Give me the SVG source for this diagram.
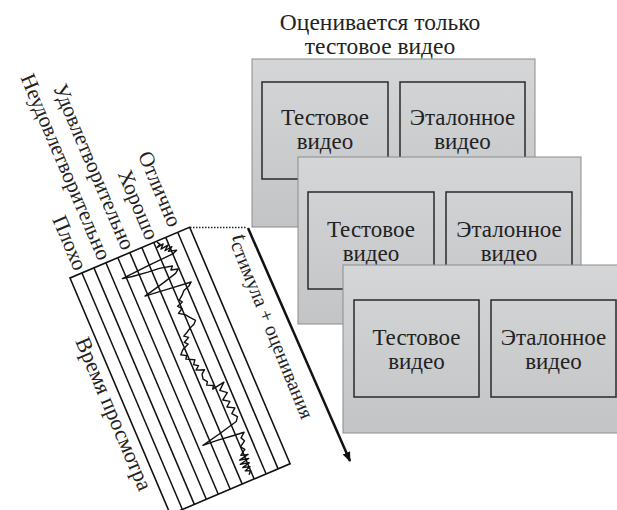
<svg xmlns="http://www.w3.org/2000/svg" width="617" height="510" viewBox="0 0 617 510">
<defs>
<linearGradient id="pg" x1="0" y1="0" x2="0" y2="1">
<stop offset="0" stop-color="#d5d6d8"/>
<stop offset="1" stop-color="#c3c4c6"/>
</linearGradient>
<marker id="ah" markerWidth="10" markerHeight="8" refX="9" refY="4" orient="auto" markerUnits="userSpaceOnUse" viewBox="0 0 10 8">
<path d="M0,0 L10,4 L0,8 Z" fill="#111"/>
</marker>
<style>
.t{font-family:"Liberation Serif","Times New Roman",serif;fill:#222}
.bx{font-size:23px;text-anchor:middle}
.panel{fill:url(#pg);stroke:#8c8c8c;stroke-width:1}
.ib{fill:none;stroke:#2a2a2a;stroke-width:1.5}
.gl{stroke:#111;stroke-width:1.5}
.lb{font-size:21.5px;text-anchor:end}
</style>
</defs>
<rect width="617" height="510" fill="#fff"/>
<g id="title">
<text class="t" x="380" y="30" font-size="23.5" text-anchor="middle">Оценивается только</text>
<text class="t" x="380" y="54" font-size="23.5" text-anchor="middle">тестовое видео</text>
</g>
<g id="panel1">
<rect class="panel" x="252" y="59" width="283" height="168"/>
<rect class="ib" x="262" y="82" width="126" height="97"/>
<rect class="ib" x="400" y="82" width="125" height="97"/>
<text class="t bx" x="325" y="125">Тестовое</text>
<text class="t bx" x="325" y="148.5">видео</text>
<text class="t bx" x="462.5" y="125">Эталонное</text>
<text class="t bx" x="462.5" y="148.5">видео</text>
</g>
<g id="panel2">
<rect class="panel" x="298" y="157" width="283" height="167"/>
<rect class="ib" x="308" y="192" width="126" height="97"/>
<rect class="ib" x="446" y="192" width="126" height="97"/>
<text class="t bx" x="371" y="237">Тестовое</text>
<text class="t bx" x="371" y="260.5">видео</text>
<text class="t bx" x="509" y="237">Эталонное</text>
<text class="t bx" x="509" y="260.5">видео</text>
</g>
<g id="panel3">
<rect class="panel" x="343" y="265" width="290" height="168"/>
<rect class="ib" x="354" y="300" width="125" height="97"/>
<rect class="ib" x="491" y="300" width="125" height="97"/>
<text class="t bx" x="416.5" y="345">Тестовое</text>
<text class="t bx" x="416.5" y="368.5">видео</text>
<text class="t bx" x="553.5" y="345">Эталонное</text>
<text class="t bx" x="553.5" y="368.5">видео</text>
</g>
<g id="chart" transform="translate(70,278) rotate(-23)">
<rect x="0" y="0" width="130" height="257" fill="#fff" stroke="#111" stroke-width="1.6"/>
<g class="gl">
<line x1="13" y1="0" x2="13" y2="257"/>
<line x1="26" y1="0" x2="26" y2="257"/>
<line x1="39" y1="0" x2="39" y2="257"/>
<line x1="52" y1="0" x2="52" y2="257"/>
<line x1="65" y1="0" x2="65" y2="257"/>
<line x1="78" y1="0" x2="78" y2="257"/>
<line x1="91" y1="0" x2="91" y2="257"/>
<line x1="104" y1="0" x2="104" y2="257"/>
<line x1="117" y1="0" x2="117" y2="257"/>
</g>
<polyline fill="none" stroke="#111" stroke-width="1.4" stroke-linejoin="round" points="94,1 96,4 92,6 99,5 95,9 103,8 98,12 106,11 101,14 109,16 104,18 78,19 48,21 58,23 74,25 86,26 99,29 96,32 103,34 99,37 84,41 62,46 72,47 91,49 110,51 106,54 100,56 96,60 92,63 94,66 88,68 91,72 86,75 92,79 95,83 99,88 96,91 91,93 86,96 82,98 86,101 80,104 83,107 76,110 72,114 77,117 75,120 83,124 80,128 84,131 80,134 88,137 84,140 83,145 86,149 84,152 90,155 88,158 101,156 94,162 100,167 93,172 99,176 94,180 101,184 96,188 100,193 97,197 76,202 57,206 72,207 90,209 100,210 95,214 97,218 91,222 94,226 88,230 95,232 85,234 94,236 84,238 93,240 85,242 92,244 86,246 91,248 88,251"/>
<text class="t lb" transform="translate(6.5,-4) rotate(90)">Плохо</text>
<text class="t lb" transform="translate(32.5,-4) rotate(90)">Неудовлетворительно</text>
<text class="t lb" transform="translate(58.5,-4) rotate(90)">Удовлетворительно</text>
<text class="t lb" transform="translate(84.5,-4) rotate(90)">Хорошо</text>
<text class="t lb" transform="translate(110.5,-7) rotate(90)">Отлично</text>
<text class="t" font-size="22" transform="translate(-20,60) rotate(90)">Время просмотра</text>
</g>
<g id="connectors">
<line x1="190" y1="227.5" x2="247" y2="227.5" stroke="#222" stroke-width="1.5" stroke-dasharray="1.5 1.5"/>
<line x1="248" y1="228" x2="350" y2="461" stroke="#111" stroke-width="2.5" marker-end="url(#ah)"/>
</g>
<g id="axis-label">
<text class="t" font-size="20" transform="translate(229,238) rotate(68)"><tspan font-size="23" font-style="italic" dy="-3">t</tspan><tspan dy="4">стимула + оценивания</tspan></text>
</g>
</svg>
